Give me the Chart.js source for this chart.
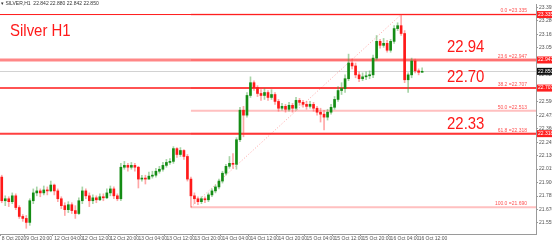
<!DOCTYPE html>
<html lang="en">
<head>
<meta charset="utf-8">
<title>Silver H1</title>
<script src="https://cdn.jsdelivr.net/npm/chart.js@4.4.0/dist/chart.umd.min.js"></script>
<style>
  html, body { margin: 0; padding: 0; background: #fff; }
  #wrap { position: relative; width: 552px; height: 240px; }
</style>
</head>
<body>
<div id="wrap"><canvas id="chart" width="552" height="240"></canvas></div>
<script>
// H1 candles
const opens = [21.947,21.745,21.762,21.737,21.787,21.687,21.611,21.594,21.560,21.745,
  21.812,21.829,21.812,21.837,21.829,21.879,21.829,21.762,21.703,21.669,
  21.711,21.661,21.636,21.745,21.829,21.787,21.745,21.770,21.753,21.779,
  21.770,21.812,21.846,21.787,21.762,22.031,22.047,22.031,22.047,22.031,
  21.930,21.938,21.930,21.955,21.963,21.997,22.014,22.047,22.072,22.081,
  22.190,22.140,22.174,22.123,21.930,21.787,21.762,21.737,21.762,21.753,
  21.795,21.829,21.863,21.913,21.980,22.039,22.064,22.056,22.266,22.518,
  22.476,22.644,22.753,22.711,22.661,22.644,22.669,22.627,22.652,22.593,
  22.535,22.551,22.526,22.560,22.535,22.602,22.585,22.568,22.551,22.568,
  22.535,22.501,22.484,22.459,22.501,22.543,22.610,22.686,22.703,22.787,
  22.921,22.896,22.820,22.787,22.803,22.812,22.820,22.963,23.106,23.072,
  23.089,23.030,23.106,23.215,23.240,23.173,22.778,22.820,22.938,22.854,
  22.842];
const closes = [21.745,21.762,21.737,21.787,21.687,21.611,21.594,21.560,21.745,21.812,
  21.829,21.812,21.837,21.829,21.879,21.829,21.762,21.703,21.669,21.711,
  21.661,21.636,21.745,21.829,21.787,21.745,21.770,21.753,21.779,21.770,
  21.812,21.846,21.787,21.762,22.031,22.047,22.031,22.047,22.031,21.930,
  21.938,21.930,21.955,21.963,21.997,22.014,22.047,22.072,22.081,22.190,
  22.140,22.174,22.123,21.930,21.787,21.762,21.737,21.762,21.753,21.795,
  21.829,21.863,21.913,21.980,22.039,22.064,22.056,22.266,22.518,22.476,
  22.644,22.753,22.711,22.661,22.644,22.669,22.627,22.652,22.593,22.535,
  22.551,22.526,22.560,22.535,22.602,22.585,22.568,22.551,22.568,22.535,
  22.501,22.484,22.459,22.501,22.543,22.610,22.686,22.703,22.787,22.921,
  22.896,22.820,22.787,22.803,22.812,22.820,22.963,23.106,23.072,23.089,
  23.030,23.106,23.215,23.240,23.173,22.778,22.820,22.938,22.854,22.842,
  22.850];
const highs = [21.963,21.787,21.779,21.812,21.804,21.703,21.627,21.619,21.762,21.846,
  21.863,21.846,21.871,21.863,21.913,21.888,21.846,21.779,21.728,21.737,
  21.728,21.703,21.770,21.863,21.846,21.812,21.795,21.787,21.804,21.804,
  21.846,21.871,21.863,21.804,22.064,22.081,22.064,22.072,22.064,22.039,
  21.963,21.963,21.989,21.997,22.022,22.039,22.072,22.098,22.106,22.207,
  22.199,22.199,22.182,22.140,21.947,21.812,21.779,21.779,21.779,21.812,
  21.846,21.879,21.930,21.997,22.056,22.123,22.148,22.283,22.543,22.551,
  22.669,22.803,22.770,22.728,22.694,22.703,22.686,22.694,22.669,22.610,
  22.577,22.568,22.585,22.577,22.627,22.619,22.602,22.593,22.593,22.585,
  22.551,22.535,22.518,22.526,22.568,22.635,22.719,22.753,22.820,22.997,
  22.955,22.921,22.845,22.837,22.845,22.854,22.988,23.156,23.123,23.131,
  23.114,23.123,23.240,23.265,23.335,23.198,22.837,22.963,22.955,22.871,
  22.880];
const lows = [21.728,21.703,21.695,21.720,21.669,21.594,21.569,21.510,21.535,21.720,
  21.787,21.779,21.795,21.795,21.821,21.795,21.737,21.678,21.619,21.644,
  21.636,21.594,21.627,21.720,21.762,21.695,21.720,21.728,21.745,21.745,
  21.762,21.787,21.762,21.745,21.745,22.014,21.997,22.014,21.997,21.854,
  21.913,21.888,21.930,21.938,21.947,21.980,21.997,22.031,22.056,22.064,
  22.115,22.123,22.098,21.913,21.690,21.720,21.711,21.720,21.728,21.737,
  21.779,21.812,21.846,21.896,21.963,22.022,22.022,22.014,22.249,22.291,
  22.459,22.627,22.686,22.635,22.602,22.610,22.602,22.610,22.568,22.509,
  22.518,22.501,22.509,22.501,22.518,22.560,22.543,22.526,22.535,22.509,
  22.476,22.417,22.350,22.434,22.484,22.526,22.593,22.652,22.669,22.770,
  22.871,22.795,22.761,22.770,22.778,22.787,22.795,22.946,23.047,23.055,
  23.013,23.013,23.089,23.198,23.156,22.753,22.669,22.795,22.837,22.820,
  22.842];
const emptyBars = 32; // chart shift on the right

const xTickBars = [0, 7, 15, 23, 31, 39, 47, 55, 63, 71, 79, 87, 95, 103, 111, 119];
const xTickLabels = ['8 Oct 2020', '9 Oct 20:00', '12 Oct 04:00', '12 Oct 12:00', '12 Oct 20:00',
  '13 Oct 04:00', '13 Oct 12:00', '13 Oct 20:00', '14 Oct 04:00', '14 Oct 12:00', '14 Oct 20:00',
  '15 Oct 04:00', '15 Oct 12:00', '15 Oct 20:00', '16 Oct 04:00', '16 Oct 12:00'];
const yTicks = [21.555, 21.670, 21.785, 21.900, 22.015, 22.130, 22.245, 22.360, 22.475,
  22.590, 22.705, 22.820, 22.935, 23.050, 23.165, 23.280, 23.395];

const fibNames = ['0.0', '23.6', '38.2', '50.0', '61.8', '100.0'];
const fibPrices = [23.335, 22.947, 22.707, 22.513, 22.318, 21.690];
const fibFromBar = 54, fibToBar = 114;
const lineLevels = [23.335, 22.947, 22.707, 22.318];
const lineWidths = [1, 3, 1.5, 2];
const levelTexts = ['22.94', '22.70', '22.33'];
const lastPrice = 22.850;

const bull = 'rgb(20,140,20)', bear = 'rgb(255,25,25)';
const bullWick = 'rgba(60,160,60,0.45)', bearWick = 'rgba(255,60,60,0.45)';
const tickFont = { size: 5, family: '"Liberation Sans", Arial, sans-serif' };

const labels = [];
for (let i = 0; i < closes.length + emptyBars; i++) labels.push(String(i));

const overlay = {
  id: 'overlay',
  beforeDatasetsDraw(chart) {
    const { ctx, chartArea: a, scales: { x, y } } = chart;
    ctx.save();
    // current price line
    ctx.strokeStyle = '#d2d2d2';
    ctx.lineWidth = 1;
    let py = Math.round(y.getPixelForValue(lastPrice)) + 0.5;
    ctx.beginPath(); ctx.moveTo(a.left, py); ctx.lineTo(a.right, py); ctx.stroke();
    // fibo levels
    const fx0 = x.getPixelForValue(fibFromBar);
    ctx.strokeStyle = 'rgba(255,140,140,0.55)';
    ctx.lineWidth = 2;
    fibPrices.forEach(p => {
      const yy = y.getPixelForValue(p);
      ctx.beginPath(); ctx.moveTo(fx0, yy); ctx.lineTo(a.right, yy); ctx.stroke();
    });
    // fibo base line, dotted
    ctx.lineWidth = 1;
    ctx.setLineDash([1, 2]);
    ctx.strokeStyle = 'rgba(255,90,90,0.55)';
    ctx.beginPath();
    ctx.moveTo(fx0, y.getPixelForValue(fibPrices[5]));
    ctx.lineTo(x.getPixelForValue(fibToBar), y.getPixelForValue(fibPrices[0]));
    ctx.stroke();
    ctx.setLineDash([]);
    // horizontal red lines
    lineLevels.forEach((p, i) => {
      const yy = y.getPixelForValue(p);
      ctx.strokeStyle = i === 1 ? 'rgba(255,70,70,0.65)' : (i === 3 ? 'rgba(255,30,30,0.85)' : '#ff1a1a');
      ctx.lineWidth = lineWidths[i];
      ctx.beginPath(); ctx.moveTo(a.left, yy); ctx.lineTo(a.right, yy); ctx.stroke();
    });
    ctx.restore();
  },
  afterDraw(chart) {
    const { ctx, chartArea: a, scales: { y } } = chart;
    ctx.save();
    // fibo texts
    ctx.font = '5px "Liberation Sans", Arial, sans-serif';
    ctx.textAlign = 'right';
    ctx.textBaseline = 'bottom';
    ctx.fillStyle = 'rgba(255,60,60,0.9)';
    fibPrices.forEach((p, i) => {
      ctx.fillText(fibNames[i] + ' =' + p.toFixed(3), a.right - 9, y.getPixelForValue(p) - 1);
    });
    // price tags on the axis
    ctx.textAlign = 'left';
    ctx.textBaseline = 'middle';
    lineLevels.forEach(p => {
      const yy = y.getPixelForValue(p);
      ctx.fillStyle = '#ff2020';
      ctx.fillRect(a.right + 1, yy - 3.5, 15, 7);
      ctx.fillStyle = '#fff';
      ctx.fillText(p.toFixed(3), a.right + 2, yy);
    });
    const ly = y.getPixelForValue(lastPrice);
    ctx.fillStyle = '#111';
    ctx.fillRect(a.right + 1, ly - 3.5, 15, 7);
    ctx.fillStyle = '#fff';
    ctx.fillText(lastPrice.toFixed(3), a.right + 2, ly);
    // header
    ctx.fillStyle = '#333';
    ctx.textBaseline = 'top';
    ctx.fillText('\u25BE SILVER,H1  22.842 22.880 22.842 22.850', 1, 1);
    // titles
    ctx.fillStyle = '#ff1a1a';
    ctx.textBaseline = 'alphabetic';
    ctx.font = '17px "Liberation Sans", Arial, sans-serif';
    const drawText = (t, tx, ty) => {
      ctx.save(); ctx.translate(tx, ty); ctx.scale(0.88, 1); ctx.fillText(t, 0, 0); ctx.restore();
    };
    drawText('Silver H1', 10, 36);
    const bases = [52, 82, 128.5];
    levelTexts.forEach((t, i) => drawText(t, 447, bases[i]));
    ctx.restore();
  }
};

new Chart(document.getElementById('chart'), {
  type: 'bar',
  data: {
    labels: labels,
    datasets: [{
      label: 'body',
      data: opens.map((o, i) => [o, closes[i]]),
      backgroundColor: opens.map((o, i) => closes[i] >= o ? bull : bear),
      barThickness: 2,
      minBarLength: 1,
      grouped: false,
      borderWidth: 0
    }, {
      label: 'wick',
      data: lows.map((l, i) => [l, highs[i]]),
      backgroundColor: opens.map((o, i) => closes[i] >= o ? bullWick : bearWick),
      barThickness: 1,
      grouped: false,
      borderWidth: 0
    }]
  },
  options: {
    responsive: false,
    animation: false,
    devicePixelRatio: 1,
    layout: { padding: 0 },
    plugins: { legend: { display: false }, tooltip: { enabled: false } },
    scales: {
      x: {
        type: 'category',
        offset: true,
        afterFit: s => { s.height = 6; },
        border: { display: true, color: '#9a9a9a' },
        grid: {
          drawOnChartArea: false,
          tickLength: 2,
          color: c => xTickBars.includes(c.index) ? '#9a9a9a' : 'rgba(0,0,0,0)'
        },
        ticks: {
          autoSkip: false, maxRotation: 0, minRotation: 0, align: 'start', padding: 0,
          font: tickFont, color: '#555',
          callback: (v, i) => { const k = xTickBars.indexOf(i); return k >= 0 ? xTickLabels[k] : ''; }
        }
      },
      y: {
        position: 'right',
        min: 21.461,
        max: 23.425,
        afterFit: s => { s.width = 16; },
        afterBuildTicks: s => { s.ticks = yTicks.map(v => ({ value: v })); },
        border: { display: true, color: '#9a9a9a' },
        grid: { drawOnChartArea: false, tickLength: 2, color: '#9a9a9a' },
        ticks: {
          padding: 1, font: tickFont, color: '#555',
          callback: v => v.toFixed(3)
        }
      }
    }
  },
  plugins: [overlay]
});
</script>
</body>
</html>
